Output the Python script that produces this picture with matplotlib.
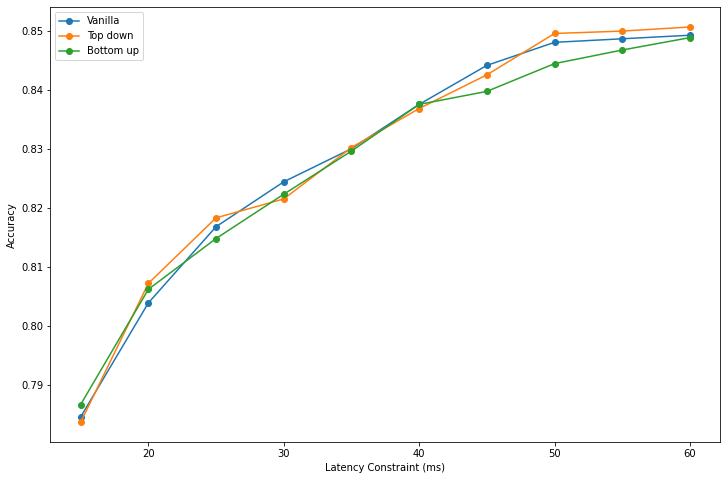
import matplotlib
matplotlib.use('Agg')
import matplotlib.pyplot as plt

latency = [15, 20, 25, 30, 35, 40, 45, 50, 55, 60]
vanilla = [0.7846, 0.8039, 0.8168, 0.8244, 0.8300, 0.8375, 0.8441, 0.8480, 0.8486, 0.8492]
top_down = [0.7837, 0.8072, 0.8183, 0.8215, 0.8302, 0.8368, 0.8425, 0.8495, 0.8499, 0.8506]
bottom_up = [0.7867, 0.8062, 0.8148, 0.8223, 0.8296, 0.8375, 0.8397, 0.8444, 0.8467, 0.8488]

fig = plt.figure(figsize=(727 / 72, 480 / 72), dpi=72)
plt.plot(latency, vanilla, marker='o', label='Vanilla')
plt.plot(latency, top_down, marker='o', label='Top down')
plt.plot(latency, bottom_up, marker='o', label='Bottom up')
plt.xlabel('Latency Constraint (ms)')
plt.ylabel('Accuracy')
plt.legend(loc='upper left')
plt.subplots_adjust(left=0.069, bottom=0.079, right=0.991, top=0.985)
plt.savefig('out.png', dpi=72)
